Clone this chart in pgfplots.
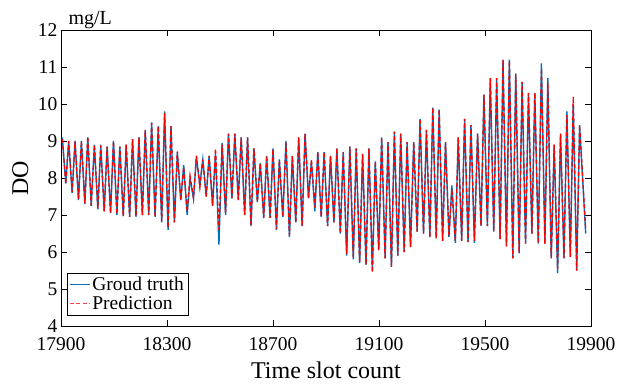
\documentclass[border=0pt]{standalone}
\usepackage{fontspec}
\setmainfont{Liberation Serif}
\usepackage{pgfplots}
\usepackage{pgfplotstable}
\pgfplotsset{compat=1.18}
\definecolor{mblue}{rgb}{0,0.447,0.741}
\definecolor{mred}{rgb}{1,0,0}
\pgfplotstableread{
t gt pr
17905 9.10 9.05
17918 7.85 7.85
17929 9.00 9.00
17942 7.60 7.62
17953 9.00 8.98
17966 7.40 7.42
17977 9.00 9.00
17990 7.30 7.32
18001 9.10 9.12
18014 7.25 7.25
18026 8.90 8.90
18039 7.15 7.18
18050 8.90 8.88
18063 7.10 7.10
18074 8.85 8.85
18087 7.05 7.05
18098 9.00 8.98
18111 7.00 7.02
18122 8.85 8.85
18135 6.97 6.97
18146 8.90 8.90
18159 6.95 6.95
18170 9.05 9.05
18183 6.95 6.97
18194 9.10 9.10
18207 7.00 7.00
18218 9.30 9.30
18231 7.00 7.00
18242 9.50 9.48
18255 6.95 6.95
18267 9.40 9.40
18280 6.80 6.82
18291 9.80 9.75
18304 6.60 6.65
18315 9.40 9.40
18328 6.80 6.80
18339 8.70 8.72
18352 7.40 7.40
18363 8.35 8.30
18376 7.00 7.10
18387 8.00 8.05
18400 7.45 7.45
18411 8.57 8.60
18424 7.80 7.75
18435 8.50 8.50
18448 7.50 7.50
18459 8.60 8.60
18472 7.25 7.25
18483 8.65 8.80
18496 6.20 6.60
18508 8.95 8.90
18521 7.00 7.05
18532 9.20 9.20
18545 7.45 7.45
18556 9.20 9.20
18569 7.40 7.40
18580 9.10 9.10
18593 7.00 7.00
18604 9.10 9.10
18617 6.70 6.72
18628 8.80 8.80
18641 7.35 7.35
18652 8.40 8.40
18665 6.92 6.92
18676 8.60 8.60
18689 6.92 6.92
18700 8.80 8.78
18713 6.60 6.62
18724 8.50 8.50
18737 6.95 6.95
18749 9.00 8.95
18762 6.40 6.45
18773 8.60 8.60
18786 6.80 6.80
18797 9.10 9.10
18810 6.70 6.70
18821 9.20 9.20
18834 7.45 7.45
18845 8.45 8.50
18858 7.10 7.20
18869 8.70 8.70
18882 6.95 6.95
18893 8.70 8.70
18906 6.70 6.70
18917 8.60 8.60
18930 6.80 6.80
18941 8.80 8.80
18954 6.50 6.50
18965 8.70 8.70
18978 5.90 5.95
18990 8.85 8.85
19003 5.80 5.85
19014 8.80 8.80
19027 5.70 5.72
19038 8.65 8.65
19051 5.65 5.65
19062 8.80 8.80
19075 5.50 5.45
19086 8.45 8.45
19099 6.05 6.05
19110 9.10 9.10
19123 5.83 5.83
19134 8.97 8.97
19147 5.60 5.60
19158 9.25 9.25
19171 5.90 5.90
19182 9.20 9.20
19195 6.00 6.00
19206 8.97 8.97
19219 6.13 6.13
19231 8.97 8.97
19244 6.55 6.55
19255 9.60 9.60
19268 6.50 6.50
19279 9.30 9.30
19292 6.40 6.40
19303 9.90 9.90
19316 6.37 6.37
19327 9.85 9.85
19340 6.30 6.30
19351 8.97 8.97
19364 6.40 6.45
19375 7.80 7.70
19388 6.25 6.30
19399 9.10 9.10
19412 6.30 6.30
19423 9.60 9.60
19436 6.27 6.27
19447 9.43 9.43
19460 6.25 6.30
19472 9.20 9.20
19485 6.70 6.70
19496 10.25 10.25
19509 6.70 6.70
19520 10.70 10.70
19533 6.55 6.55
19544 10.70 10.70
19557 6.35 6.35
19568 11.20 11.20
19581 6.15 6.15
19592 11.20 11.15
19605 5.83 5.83
19616 10.83 10.80
19629 5.97 5.97
19640 10.60 10.60
19653 6.23 6.23
19664 10.30 10.30
19677 6.50 6.50
19688 10.30 10.30
19701 6.23 6.23
19713 11.10 10.95
19726 6.23 6.23
19737 10.70 10.60
19750 5.83 5.83
19761 8.90 8.90
19774 5.43 5.55
19785 9.20 9.20
19798 5.83 5.83
19809 9.80 9.70
19822 5.87 5.87
19833 10.00 10.20
19846 5.50 5.50
19857 9.43 9.43
19880 6.50 6.60
}\dodata
\begin{document}
\begin{tikzpicture}
\useasboundingbox (-61pt,-58pt) rectangle (558pt,326pt);
\begin{axis}[
 at={(0pt,0pt)}, anchor=south west,
 scale only axis, width=530pt, height=296pt,
 xmin=17900, xmax=19900, ymin=4, ymax=12,
 xtick={17900,18300,...,19900}, ytick={4,...,12},
 /pgf/number format/assume math mode=true,
 /pgf/number format/set thousands separator={},
 scaled x ticks=false,
 tick align=inside, major tick length=6pt,
 axis line style={line width=0.9pt},
 tick style={line width=0.8pt, black},
 tick label style={font=\fontsize{19.5}{22}\selectfont},
 xticklabel style={yshift=-8pt},
 label style={font=\fontsize{24}{26}\selectfont},
 xlabel={Time slot count}, ylabel={DO},
 xlabel style={at={(axis description cs:0.5,-0.149)}, anchor=center},
 ylabel style={at={(axis description cs:-0.077,0.5)}, anchor=center},
 legend style={at={(rel axis cs:0.0113,0.037)}, anchor=south west,
   font=\fontsize{19.5}{21}\selectfont,
   inner sep=2pt, row sep=0pt},
 legend cell align=left,
]
\addplot[color=mblue, line width=1.4pt,
  legend image code/.code={\draw[mblue, line width=1.2pt] (0pt,0pt) -- (20pt,0pt);}]
  table[x=t, y=gt] {\dodata};
\addlegendentry{Groud truth}
\addplot[color=mred, line width=1.3pt, dash pattern=on 4pt off 2.5pt,
  legend image code/.code={\draw[mred!75, line width=1.2pt, dash pattern=on 4pt off 2.5pt] (0pt,0pt) -- (20pt,0pt);}]
  table[x=t, y=pr] {\dodata};
\addlegendentry{Prediction}
\end{axis}
\node[anchor=base west, font=\fontsize{20}{22}\selectfont] at (4pt,302pt) {mg/L};
\end{tikzpicture}
\end{document}
